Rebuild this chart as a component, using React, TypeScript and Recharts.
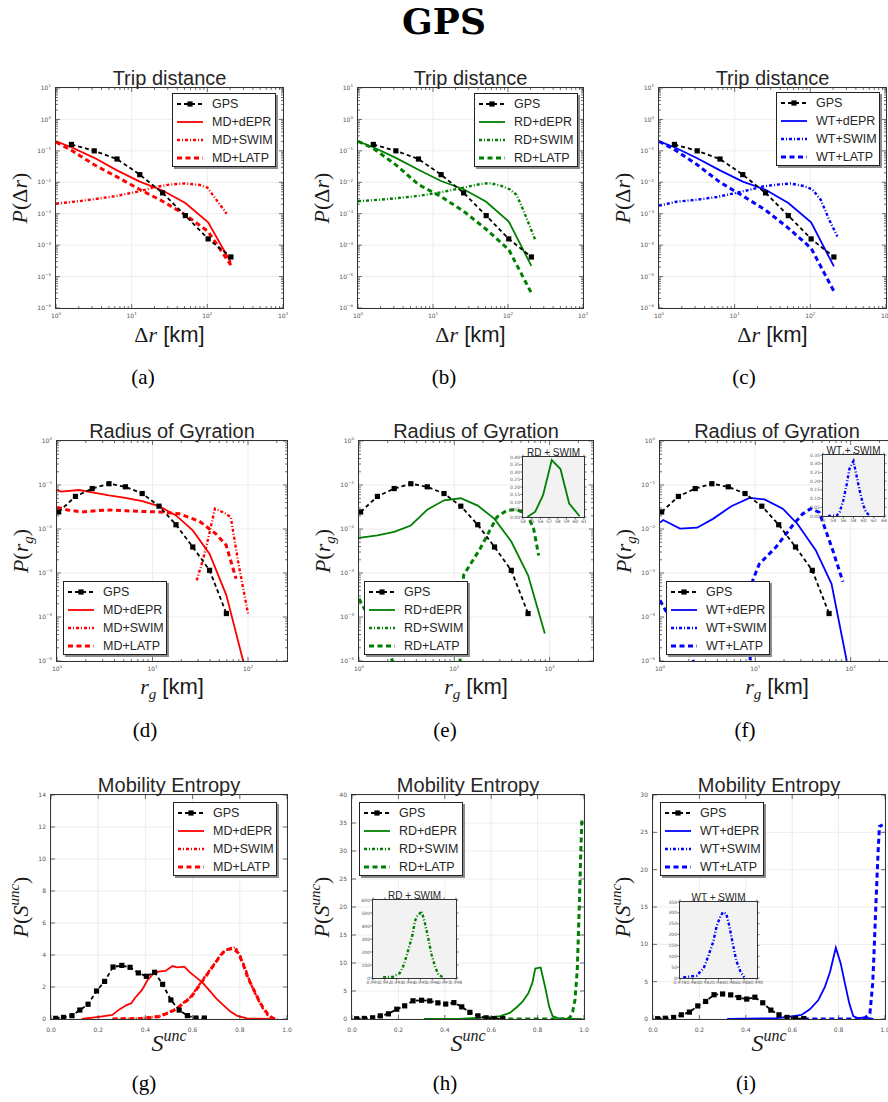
import React from "react";
import { LineChart, Line, XAxis, YAxis, CartesianGrid } from "recharts";

// ---------- Trip distance (km, log bins) ----------
const tripBins = [1.6, 3.2, 6.4, 12.8, 25.6, 51.2, 102.4, 204.8];
const gpsTrip = [0.16, 0.1, 0.055, 0.0175, 0.0046, 0.00087, 0.000158, 0.000042];
const modelTripBins = [1, 1.6, 3.2, 6.4, 12.8, 25.6, 51.2, 102.4, 204.8];
const mdDeprTrip = [0.2, 0.13, 0.06, 0.024, 0.0105, 0.0055, 0.0022, 0.00053, 0.000028];
const mdLatpTrip = [0.19, 0.104, 0.036, 0.0148, 0.0059, 0.0025, 0.00093, 0.00027, 0.000023];
const mdSwimTripX = [1, 2, 3.2, 6.4, 12.8, 20, 32, 50, 80, 100, 180];
const mdSwimTrip = [0.0021, 0.0025, 0.0029, 0.0037, 0.0052, 0.007, 0.0085, 0.0092, 0.0082, 0.0068, 0.001];
const rdDeprTrip = [0.2, 0.13, 0.06, 0.025, 0.011, 0.006, 0.0024, 0.00056, 0.000022];
const rdLatpTrip = [0.2, 0.12, 0.036, 0.0085, 0.0035, 0.0012, 0.00032, 0.000072, 0.000003];
const rdSwimTripX = [1, 2, 3.2, 6.4, 12.8, 25.6, 40, 56, 80, 105, 130, 160, 230];
const rdSwimTrip = [0.0025, 0.0028, 0.0031, 0.0037, 0.0048, 0.0068, 0.0085, 0.0095, 0.0078, 0.006, 0.004, 0.0013, 0.00015];
const wtDeprTrip = [0.2, 0.13, 0.058, 0.024, 0.0105, 0.0058, 0.0022, 0.00053, 0.000021];
const wtLatpTrip = [0.2, 0.11, 0.036, 0.01, 0.0037, 0.0013, 0.00035, 0.00008, 0.0000034];
const wtSwimTripX = [1, 1.7, 3.2, 5.8, 10, 16, 24, 36, 55, 82, 106, 137, 177, 228];
const wtSwimTrip = [0.0018, 0.0024, 0.0028, 0.0034, 0.0045, 0.0058, 0.0074, 0.0084, 0.0091, 0.0076, 0.006, 0.0028, 0.00065, 0.00019];

// ---------- Radius of gyration ----------
const gyrBins = [1.04, 1.56, 2.34, 3.5, 5.2, 7.8, 11.7, 17.6, 26.4, 39.6, 59.4];
const gpsGyr = [0.0244, 0.055, 0.083, 0.107, 0.091, 0.064, 0.033, 0.0125, 0.0039, 0.00115, 0.00012];
const mdGyrDeprX = [1, 1.1, 1.7, 2.34, 3.5, 5.2, 7.8, 11.7, 17.6, 26.4, 39.6, 59.4, 89];
const mdGyrDepr = [0.078, 0.071, 0.077, 0.068, 0.058, 0.051, 0.043, 0.033, 0.0204, 0.0093, 0.0027, 0.00031, 0.00001];
const mdGyrLatpX = [1, 1.3, 1.8, 2.6, 3.6, 5.3, 7.9, 11.8, 19, 31, 46, 59, 75];
const mdGyrLatp = [0.031, 0.027, 0.0244, 0.026, 0.027, 0.026, 0.025, 0.0244, 0.0222, 0.015, 0.0078, 0.0043, 0.00074];
const mdGyrSwimX = [29, 34, 39, 45, 55, 66, 80, 100];
const mdGyrSwim = [0.00068, 0.0021, 0.0072, 0.029, 0.024, 0.0187, 0.0015, 0.00012];
const rdGyrDeprX = [1, 1.56, 2.34, 3.5, 5.2, 7.8, 11.7, 17.6, 26.4, 39.6, 59.4, 89];
const rdGyrDepr = [0.0063, 0.0072, 0.0086, 0.012, 0.0275, 0.045, 0.05, 0.034, 0.017, 0.0052, 0.00089, 0.000042];
const rdGyrLatpX = [1, 4, 11, 12.5, 18.7, 28, 35.6, 45, 57.8, 67.8, 76.7];
const rdGyrLatp = [0.00026, 0.000001, 0.000001, 0.00089, 0.0036, 0.0187, 0.0266, 0.0275, 0.022, 0.0103, 0.0025];
const wtGyrDeprX = [1, 1.08, 1.62, 2.45, 3.6, 5.6, 8.7, 12.5, 19.4, 27.7, 43, 63, 91];
const wtGyrDepr = [0.014, 0.016, 0.0102, 0.0107, 0.017, 0.033, 0.051, 0.047, 0.029, 0.013, 0.0033, 0.00057, 0.00001];
const wtGyrLatpX = [1, 4, 8.5, 9.4, 11, 16.5, 24.6, 31.3, 38, 46.8, 64, 83];
const wtGyrLatp = [0.00024, 0.000001, 0.000001, 0.00068, 0.0016, 0.0039, 0.012, 0.022, 0.029, 0.024, 0.0036, 0.00063];

// ---------- Mobility entropy ----------
const entBins = [0.02, 0.053, 0.089, 0.122, 0.157, 0.193, 0.227, 0.263, 0.3, 0.335, 0.37, 0.404, 0.439, 0.473, 0.508, 0.543, 0.578, 0.614, 0.65];
const gpsEnt = [0.04, 0.1, 0.21, 0.56, 0.92, 1.75, 2.35, 3.25, 3.35, 3.23, 2.88, 2.67, 2.92, 2.17, 1.19, 0.56, 0.21, 0.06, 0.06];
const mdEntDeprX = [0.13, 0.21, 0.26, 0.29, 0.32, 0.34, 0.355, 0.385, 0.41, 0.435, 0.455, 0.485, 0.515, 0.535, 0.565, 0.585, 0.615, 0.645, 0.67, 0.7, 0.73, 0.76, 0.79, 0.83, 0.93];
const mdEntDepr = [0, 0.15, 0.25, 0.6, 0.87, 0.98, 1.3, 1.8, 2.45, 2.85, 2.96, 3.0, 3.31, 3.23, 3.27, 2.96, 2.6, 2.23, 1.81, 1.29, 0.87, 0.46, 0.19, 0.04, 0];
const mdEntLatpX = [0.26, 0.38, 0.46, 0.5, 0.53, 0.56, 0.59, 0.61, 0.64, 0.67, 0.7, 0.72, 0.74, 0.765, 0.78, 0.795, 0.815, 0.835, 0.86, 0.88, 0.9, 0.925, 0.945];
const mdEntLatp = [0, 0.03, 0.15, 0.4, 0.6, 0.98, 1.3, 1.7, 2.33, 2.96, 3.58, 4.0, 4.31, 4.42, 4.31, 4.1, 3.38, 2.54, 1.81, 1.19, 0.67, 0.19, 0.02];
const mdEntSwimX = [0.27, 0.38, 0.46, 0.5, 0.53, 0.56, 0.59, 0.61, 0.64, 0.67, 0.7, 0.72, 0.74, 0.76, 0.78, 0.8, 0.82, 0.84, 0.86, 0.88, 0.9, 0.92, 0.94, 0.96];
const mdEntSwim = [0, 0.04, 0.18, 0.42, 0.65, 1.0, 1.35, 1.75, 2.4, 3.0, 3.6, 4.05, 4.3, 4.35, 4.5, 4.0, 3.3, 2.45, 1.75, 1.15, 0.6, 0.2, 0.03, 0];
const rdEntDeprX = [0.31, 0.46, 0.58, 0.64, 0.68, 0.71, 0.735, 0.76, 0.777, 0.79, 0.813, 0.832, 0.85, 0.865, 0.89, 0.93, 0.99];
const rdEntDepr = [0, 0.03, 0.3, 0.5, 1.1, 2.1, 3.1, 4.6, 6.4, 9.0, 9.2, 5.8, 2.2, 0.5, 0.1, 0.03, 0];
const rdEntLatpX = [0.6, 0.7, 0.8, 0.9, 0.93, 0.94, 0.951, 0.961, 0.971, 0.98, 0.986, 0.991];
const rdEntLatp = [0, 0, 0, 0, 0.05, 0.3, 1.3, 3.4, 8.75, 20.6, 29.6, 35.7];
const wtEntDeprX = [0.32, 0.53, 0.59, 0.64, 0.676, 0.712, 0.741, 0.763, 0.788, 0.809, 0.827, 0.846, 0.863, 0.885, 0.91, 0.95];
const wtEntDepr = [0, 0.1, 0.3, 0.54, 1.3, 2.5, 4.3, 6.3, 9.55, 7.45, 4.8, 2.1, 0.4, 0.1, 0.2, 0];
const wtEntLatpX = [0.65, 0.75, 0.85, 0.9, 0.914, 0.935, 0.947, 0.952, 0.961, 0.97, 0.976, 0.99];
const wtEntLatp = [0, 0, 0, 0, 0.15, 0.75, 4.8, 8.3, 15.5, 22.2, 25.8, 26];

// ---------- insets (SWIM) ----------
const rdGyrSwimX = [54.5, 55.4, 56.3, 57.3, 58.3, 59.3, 60.5];
const rdGyrSwim = [0, 0.035, 0.145, 0.38, 0.32, 0.09, 0.005];
const wtGyrSwimX = [53, 54.7, 55.3, 56, 56.7, 57.2, 57.7, 58, 58.5, 59.2, 59.9, 60.5, 61.3];
const wtGyrSwim = [0, 0.002, 0.025, 0.09, 0.187, 0.27, 0.3, 0.315, 0.245, 0.147, 0.063, 0.02, 0];
const rdEntSwimX = [0.99185, 0.9927, 0.99326, 0.99354, 0.99382, 0.9941, 0.99433, 0.99453, 0.99467, 0.99495, 0.9951, 0.99538, 0.99566, 0.99594, 0.99623, 0.99651, 0.99693];
const rdEntSwim = [5, 10, 38, 89, 166, 255, 332, 434, 472, 497, 515, 421, 306, 179, 89, 26, 5];
const wtEntSwimX = [0.9785, 0.9806, 0.9817, 0.9824, 0.9832, 0.9837, 0.9843, 0.9847, 0.9852, 0.9857, 0.9862, 0.9868, 0.9874, 0.988];
const wtEntSwim = [3, 11, 46, 100, 169, 238, 284, 303, 296, 238, 161, 77, 31, 3];

// ---------- tick values ----------
const tripXTicks = [1, 10, 100, 1000];
const tripYTicks = [1e-6, 1e-5, 1e-4, 1e-3, 1e-2, 1e-1, 1, 10];
const gyrXTicks = [1, 10, 100];
const gyrYTicks = [1e-5, 1e-4, 1e-3, 1e-2, 1e-1, 1];
const entXTicks = [0, 0.2, 0.4, 0.6, 0.8, 1.0];
const gEntYTicks = [0, 2, 4, 6, 8, 10, 12, 14];
const hEntYTicks = [0, 5, 10, 15, 20, 25, 30, 35, 40];
const iEntYTicks = [0, 5, 10, 15, 20, 25, 30];
const eInsetXTicks = [54, 55, 56, 57, 58, 59, 60, 61];
const eInsetYTicks = [0, 0.05, 0.1, 0.15, 0.2, 0.25, 0.3, 0.35, 0.4];
const fInsetXTicks = [52, 54, 56, 58, 60, 62, 64];
const fInsetYTicks = [0, 0.05, 0.1, 0.15, 0.2, 0.25, 0.3, 0.35];
const hInsetXTicks = [0.991, 0.992, 0.993, 0.994, 0.995, 0.996, 0.997, 0.998];
const hInsetYTicks = [0, 100, 200, 300, 400, 500, 600];
const iInsetXTicks = [0.978, 0.98, 0.982, 0.984, 0.986, 0.988, 0.99];
const iInsetYTicks = [0, 50, 100, 150, 200, 250, 300, 350];

type Pt = { x: number; y: number };
const zip = (xs: number[], ys: number[]): Pt[] => xs.map((x, i) => ({ x, y: ys[i] }));

const logMinors = (lo: number, hi: number) => {
  const out: number[] = [];
  for (let e = Math.floor(Math.log10(lo)); e < Math.ceil(Math.log10(hi)); e++) {
    for (let k = 2; k <= 9; k++) {
      const v = k * Math.pow(10, e);
      if (v > lo * 1.0001 && v < hi) out.push(v);
    }
  }
  return out;
};

const SERIF = '"Liberation Serif", "Times New Roman", serif';
const SANS = '"Liberation Sans", Arial, sans-serif';
const TICKFONT = '"DejaVu Sans", sans-serif';
const C = { gps: "#000000", md: "#ff0000", rd: "#008000", wt: "#0000ff" };
const LINE: Record<string, { dash?: string; width: number }> = {
  gps: { dash: "4 3", width: 1.8 },
  depr: { width: 1.8 },
  swim: { dash: "3 2 1 2", width: 2.4 },
  latp: { dash: "5 3.5", width: 3 },
};

type Axis = {
  log: boolean;
  domain: [number, number];
  majors: number[];
  minors: number[];
  font: number;
  gap: number;
  len: number;
  fmt?: (v: number) => string;
};
type Series = { label: string; data: Pt[]; color: string; kind: string; marker?: boolean };

const logAxis = (lo: number, hi: number, majors: number[], gap: number): Axis => ({
  log: true, domain: [lo, hi], majors, minors: logMinors(lo, hi), font: 6, gap, len: 4,
});
const linAxis = (hi: number, majors: number[], gap: number, fmt: (v: number) => string, font = 6, len = 4, lo = 0): Axis => ({
  log: false, domain: [lo, hi], majors, minors: [], font, gap, len, fmt,
});

const isMajor = (ax: Axis, v: number) =>
  ax.majors.some((m) => Math.abs(m - v) <= 1e-9 * Math.max(Math.abs(m), 1e-12));

function TickLabel({ x, y, anchor, ax, v }: any) {
  if (ax.log) {
    const e = Math.round(Math.log10(v));
    return (
      <text x={x} y={y} textAnchor={anchor} fontFamily={TICKFONT} fontSize={ax.font} fill="#555">
        10
        <tspan dy={-ax.font * 0.45} fontSize={ax.font * 0.68}>
          {e < 0 ? "\u2212" + -e : String(e)}
        </tspan>
      </text>
    );
  }
  return (
    <text x={x} y={y} textAnchor={anchor} fontFamily={TICKFONT} fontSize={ax.font} fill="#555">
      {ax.fmt(v)}
    </text>
  );
}

function XTick(props: any) {
  const { x, y, payload, ax, h, out } = props;
  const v = payload.value;
  const major = isMajor(ax, v);
  const len = major ? ax.len : ax.len / 2;
  const s = out ? 1 : -1;
  return (
    <g>
      <line x1={x} x2={x} y1={y} y2={y + s * len} stroke="#333" strokeWidth={0.7} />
      <line x1={x} x2={x} y1={y - h} y2={y - h - s * len} stroke="#333" strokeWidth={0.7} />
      {major && <TickLabel x={x} y={y + ax.gap} anchor="middle" ax={ax} v={v} />}
    </g>
  );
}

function YTick(props: any) {
  const { x, y, payload, ax, w, out } = props;
  const v = payload.value;
  const major = isMajor(ax, v);
  const len = major ? ax.len : ax.len / 2;
  const s = out ? 1 : -1;
  return (
    <g>
      <line x1={x} x2={x - s * len} y1={y} y2={y} stroke="#333" strokeWidth={0.7} />
      <line x1={x + w} x2={x + w + s * len} y1={y} y2={y} stroke="#333" strokeWidth={0.7} />
      {major && <TickLabel x={x - ax.gap} y={y + ax.font * 0.35} anchor="end" ax={ax} v={v} />}
    </g>
  );
}

const squareDot = (p: any) =>
  p.cx == null || p.cy == null ? (
    <g key={`d${p.index}`} />
  ) : (
    <rect key={`d${p.index}`} x={p.cx - 2.6} y={p.cy - 2.6} width={5.2} height={5.2} fill="#000" />
  );

type Rect = { x: number; y: number; w: number; h: number };

// axes are given 1px of room (Recharts skips axes of zero size), taken back from the margins
function Chart({ rect, xAx, yAx, series, out = false, grid = true, m }: any) {
  const { x, y, w, h } = rect as Rect;
  return (
    <div style={{ position: "absolute", left: x - m.l, top: y - m.t }}>
      <LineChart
        width={w + m.l + m.r}
        height={h + m.t + m.b}
        margin={{ top: m.t, right: m.r, bottom: m.b - 1, left: m.l - 1 }}
      >
        {grid && (
          <CartesianGrid
            stroke="#e8e8e8"
            strokeWidth={0.8}
            verticalValues={xAx.majors}
            horizontalValues={yAx.majors}
          />
        )}
        <XAxis
          type="number"
          dataKey="x"
          scale={xAx.log ? "log" : "linear"}
          domain={xAx.domain}
          allowDataOverflow
          ticks={[...xAx.majors, ...xAx.minors]}
          interval={0}
          height={1}
          tickSize={0}
          tickMargin={0}
          axisLine={false}
          tickLine={false}
          tick={(p: any) => <XTick {...p} ax={xAx} h={h} out={out} />}
        />
        <YAxis
          type="number"
          scale={yAx.log ? "log" : "linear"}
          domain={yAx.domain}
          allowDataOverflow
          ticks={[...yAx.majors, ...yAx.minors]}
          interval={0}
          width={1}
          tickSize={0}
          tickMargin={0}
          axisLine={false}
          tickLine={false}
          tick={(p: any) => <YTick {...p} ax={yAx} w={w} out={out} />}
        />
        {(series as Series[])
          .filter((s) => s.data.length > 0)
          .map((s) => (
            <Line
              key={s.label}
              data={s.data}
              dataKey="y"
              type="linear"
              stroke={s.color}
              strokeWidth={LINE[s.kind].width}
              strokeDasharray={LINE[s.kind].dash}
              dot={s.marker ? squareDot : false}
              activeDot={false}
              isAnimationActive={false}
            />
          ))}
      </LineChart>
    </div>
  );
}

function Frame({ rect, bg }: { rect: Rect; bg?: string }) {
  return (
    <div
      style={{
        position: "absolute",
        left: rect.x - 0.6,
        top: rect.y - 0.6,
        width: rect.w + 1.2,
        height: rect.h + 1.2,
        boxSizing: "border-box",
        border: "1.2px solid #333",
        background: bg,
        pointerEvents: "none",
      }}
    />
  );
}

function LegendBox({ left, top, items }: { left: number; top: number; items: Series[] }) {
  return (
    <div
      style={{
        position: "absolute",
        left,
        top,
        width: 104,
        height: 74,
        boxSizing: "border-box",
        border: "1px solid #222",
        background: "#fff",
        boxShadow: "2px 2px 0 #8c8c8c",
        fontFamily: SANS,
        fontSize: 12.5,
        color: "#262626",
      }}
    >
      {items.map((s, i) => (
        <div
          key={s.label}
          style={{ position: "absolute", left: 0, top: 1 + i * 18, height: 18, display: "flex", alignItems: "center", whiteSpace: "nowrap" }}
        >
          <svg width={34} height={18}>
            <line x1={4} x2={30} y1={9} y2={9} stroke={s.color} strokeWidth={LINE[s.kind].width} strokeDasharray={LINE[s.kind].dash} />
            {s.marker && <rect x={14.4} y={6.4} width={5.2} height={5.2} fill="#000" />}
          </svg>
          <span style={{ marginLeft: 5 }}>{s.label}</span>
        </div>
      ))}
    </div>
  );
}

const MAIN_M = { l: 44, r: 14, t: 14, b: 24 };
const INSET_M = { l: 16, r: 6, t: 6, b: 10 };

const gps = (xs: number[], ys: number[]): Series => ({ label: "GPS", data: zip(xs, ys), color: C.gps, kind: "gps", marker: true });
const mk = (label: string, color: string, kind: string, data: Pt[]): Series => ({ label, data, color, kind });

const tripXAx = logAxis(1, 1000, tripXTicks, 10);
const tripYAx = logAxis(1e-6, 10, tripYTicks, 5);
const gyrYAx = logAxis(1e-5, 1, gyrYTicks, 5);
const entXAx = linAxis(1, entXTicks, 13, (v) => v.toFixed(1));

const panels = [
  {
    rect: { x: 56, y: 88, w: 227, h: 220 }, xAx: tripXAx, yAx: tripYAx, legend: [172, 93],
    series: [
      gps(tripBins, gpsTrip),
      mk("MD+dEPR", C.md, "depr", zip(modelTripBins, mdDeprTrip)),
      mk("MD+SWIM", C.md, "swim", zip(mdSwimTripX, mdSwimTrip)),
      mk("MD+LATP", C.md, "latp", zip(modelTripBins, mdLatpTrip)),
    ],
  },
  {
    rect: { x: 358, y: 88, w: 225, h: 220 }, xAx: tripXAx, yAx: tripYAx, legend: [474, 93],
    series: [
      gps(tripBins, gpsTrip),
      mk("RD+dEPR", C.rd, "depr", zip(modelTripBins, rdDeprTrip)),
      mk("RD+SWIM", C.rd, "swim", zip(rdSwimTripX, rdSwimTrip)),
      mk("RD+LATP", C.rd, "latp", zip(modelTripBins, rdLatpTrip)),
    ],
  },
  {
    rect: { x: 659, y: 88, w: 227, h: 220 }, xAx: tripXAx, yAx: tripYAx, legend: [776, 92],
    series: [
      gps(tripBins, gpsTrip),
      mk("WT+dEPR", C.wt, "depr", zip(modelTripBins, wtDeprTrip)),
      mk("WT+SWIM", C.wt, "swim", zip(wtSwimTripX, wtSwimTrip)),
      mk("WT+LATP", C.wt, "latp", zip(modelTripBins, wtLatpTrip)),
    ],
  },
  {
    rect: { x: 57, y: 441, w: 230, h: 220 }, xAx: logAxis(1, 256, gyrXTicks, 10), yAx: gyrYAx, legend: [63, 581],
    series: [
      gps(gyrBins, gpsGyr),
      mk("MD+dEPR", C.md, "depr", zip(mdGyrDeprX, mdGyrDepr)),
      mk("MD+SWIM", C.md, "swim", zip(mdGyrSwimX, mdGyrSwim)),
      mk("MD+LATP", C.md, "latp", zip(mdGyrLatpX, mdGyrLatp)),
    ],
  },
  {
    rect: { x: 359, y: 441, w: 234, h: 220 }, xAx: logAxis(1, 285, gyrXTicks, 10), yAx: gyrYAx, legend: [364, 581],
    series: [
      gps(gyrBins, gpsGyr),
      mk("RD+dEPR", C.rd, "depr", zip(rdGyrDeprX, rdGyrDepr)),
      mk("RD+SWIM", C.rd, "swim", []),
      mk("RD+LATP", C.rd, "latp", zip(rdGyrLatpX, rdGyrLatp)),
    ],
    inset: {
      rect: { x: 523, y: 457, w: 61, h: 60 }, title: "RD + SWIM",
      xAx: linAxis(61, eInsetXTicks, 6, (v) => String(v), 4.5, 2.5, 54),
      yAx: linAxis(0.4, eInsetYTicks, 3, (v) => v.toFixed(2), 4.5, 2.5),
      series: [{ label: "RD+SWIM", data: zip(rdGyrSwimX, rdGyrSwim), color: C.rd, kind: "depr" }],
    },
  },
  {
    rect: { x: 660, y: 441, w: 234, h: 220 }, xAx: logAxis(1, 285, gyrXTicks, 10), yAx: gyrYAx, legend: [666, 581],
    series: [
      gps(gyrBins, gpsGyr),
      mk("WT+dEPR", C.wt, "depr", zip(wtGyrDeprX, wtGyrDepr)),
      mk("WT+SWIM", C.wt, "swim", []),
      mk("WT+LATP", C.wt, "latp", zip(wtGyrLatpX, wtGyrLatp)),
    ],
    inset: {
      rect: { x: 823, y: 455, w: 61, h: 61 }, title: "WT + SWIM",
      xAx: linAxis(64, fInsetXTicks, 6, (v) => String(v), 4.5, 2.5, 52),
      yAx: linAxis(0.35, fInsetYTicks, 3, (v) => v.toFixed(2), 4.5, 2.5),
      series: [{ label: "WT+SWIM", data: zip(wtGyrSwimX, wtGyrSwim), color: C.wt, kind: "swim" }],
    },
  },
  {
    rect: { x: 51, y: 795, w: 236, h: 224 }, xAx: entXAx, yAx: linAxis(14, gEntYTicks, 5, (v) => String(v)), legend: [173, 802],
    series: [
      gps(entBins, gpsEnt),
      mk("MD+dEPR", C.md, "depr", zip(mdEntDeprX, mdEntDepr)),
      mk("MD+SWIM", C.md, "swim", zip(mdEntSwimX, mdEntSwim)),
      mk("MD+LATP", C.md, "latp", zip(mdEntLatpX, mdEntLatp)),
    ],
  },
  {
    rect: { x: 352, y: 795, w: 232, h: 224 }, xAx: entXAx, yAx: linAxis(40, hEntYTicks, 5, (v) => String(v)), legend: [359, 802],
    series: [
      gps(entBins, gpsEnt),
      mk("RD+dEPR", C.rd, "depr", zip(rdEntDeprX, rdEntDepr)),
      mk("RD+SWIM", C.rd, "swim", []),
      mk("RD+LATP", C.rd, "latp", zip(rdEntLatpX, rdEntLatp)),
    ],
    inset: {
      rect: { x: 373, y: 900, w: 83, h: 78 }, title: "RD + SWIM",
      xAx: linAxis(0.998, hInsetXTicks, 6, (v) => v.toFixed(3), 4.5, 2.5, 0.991),
      yAx: linAxis(600, hInsetYTicks, 3, (v) => String(v), 4.5, 2.5),
      series: [{ label: "RD+SWIM", data: zip(rdEntSwimX, rdEntSwim), color: C.rd, kind: "swim" }],
    },
  },
  {
    rect: { x: 653, y: 795, w: 232, h: 224 }, xAx: entXAx, yAx: linAxis(30, iEntYTicks, 5, (v) => String(v)), legend: [660, 802],
    series: [
      gps(entBins, gpsEnt),
      mk("WT+dEPR", C.wt, "depr", zip(wtEntDeprX, wtEntDepr)),
      mk("WT+SWIM", C.wt, "swim", []),
      mk("WT+LATP", C.wt, "latp", zip(wtEntLatpX, wtEntLatp)),
    ],
    inset: {
      rect: { x: 680, y: 902, w: 77, h: 76 }, title: "WT + SWIM",
      xAx: linAxis(0.99, iInsetXTicks, 6, (v) => v.toFixed(3), 4.5, 2.5, 0.978),
      yAx: linAxis(350, iInsetYTicks, 3, (v) => String(v), 4.5, 2.5),
      series: [{ label: "WT+SWIM", data: zip(wtEntSwimX, wtEntSwim), color: C.wt, kind: "swim" }],
    },
  },
];

const rowTitles = ["Trip distance", "Radius of Gyration", "Mobility Entropy"];
const captions = ["(a)", "(b)", "(c)", "(d)", "(e)", "(f)", "(g)", "(h)", "(i)"];
const captionX = [143, 444, 744, 145, 445, 745, 144, 445, 746];
const ROW_TITLE_Y = [85, 438, 792];
const ROW_XLABEL_Y = [342, 694, 1051];
const ROW_CAPTION_Y = [384, 737, 1090];

function XLabel({ row, cx, y }: { row: number; cx: number; y: number }) {
  return (
    <text x={cx} y={y} textAnchor="middle" fontFamily={SERIF} fontSize={22} fill="#1a1a1a">
      {row === 0 && (
        <>
          {"\u0394"}
          <tspan fontStyle="italic">r</tspan>
          <tspan fontFamily={SANS}>{" [km]"}</tspan>
        </>
      )}
      {row === 1 && (
        <>
          <tspan fontStyle="italic">r</tspan>
          <tspan fontStyle="italic" fontSize={15} dy={5}>g</tspan>
          <tspan fontFamily={SANS} dy={-5}>{" [km]"}</tspan>
        </>
      )}
      {row === 2 && (
        <>
          <tspan fontStyle="italic" fontSize={24}>S</tspan>
          <tspan fontStyle="italic" fontSize={16} dy={-10}>unc</tspan>
        </>
      )}
    </text>
  );
}

function YLabel({ row, x, cy }: { row: number; x: number; cy: number }) {
  return (
    <text transform={`translate(${x},${cy}) rotate(-90)`} textAnchor="middle" fontFamily={SERIF} fontSize={22} fill="#1a1a1a">
      <tspan fontStyle="italic">P</tspan>
      {row === 0 && (
        <>
          {"(\u0394"}
          <tspan fontStyle="italic">r</tspan>
          <tspan>)</tspan>
        </>
      )}
      {row === 1 && (
        <>
          {"("}
          <tspan fontStyle="italic">r</tspan>
          <tspan fontStyle="italic" fontSize={15} dy={5}>g</tspan>
          <tspan dy={-5}>)</tspan>
        </>
      )}
      {row === 2 && (
        <>
          {"("}
          <tspan fontStyle="italic">S</tspan>
          <tspan fontStyle="italic" fontSize={15} dy={-9}>unc</tspan>
          <tspan dy={9}>)</tspan>
        </>
      )}
    </text>
  );
}

export default function App() {
  return (
    <div style={{ position: "absolute", left: 0, top: 0, width: 888, height: 1102, overflow: "hidden", background: "#fff" }}>
      {panels.map((p, i) => (
        <React.Fragment key={i}>
          <Chart rect={p.rect} xAx={p.xAx} yAx={p.yAx} series={[...p.series.slice(1), p.series[0]]} m={MAIN_M} />
          <Frame rect={p.rect} />
          <LegendBox left={p.legend[0]} top={p.legend[1]} items={p.series} />
          {p.inset && (
            <>
              <Frame rect={p.inset.rect} bg="#f2f2f2" />
              <Chart
                rect={p.inset.rect}
                xAx={p.inset.xAx}
                yAx={p.inset.yAx}
                series={p.inset.series}
                out
                grid={false}
                m={INSET_M}
              />
            </>
          )}
        </React.Fragment>
      ))}
      <svg width={888} height={1102} style={{ position: "absolute", left: 0, top: 0, pointerEvents: "none" }}>
        <text x={444} y={34} textAnchor="middle" fontFamily='"DejaVu Serif", serif' fontWeight="bold" fontSize={36} fill="#000">
          GPS
        </text>
        {panels.map((p, i) => {
          const row = Math.floor(i / 3);
          const cx = p.rect.x + p.rect.w / 2;
          const cy = p.rect.y + p.rect.h / 2;
          return (
            <g key={i}>
              <text x={cx} y={ROW_TITLE_Y[row]} textAnchor="middle" fontFamily={SANS} fontSize={20} fill="#262626">
                {rowTitles[row]}
              </text>
              <XLabel row={row} cx={cx} y={ROW_XLABEL_Y[row]} />
              <YLabel row={row} x={p.rect.x - (row === 2 ? 23 : 29)} cy={cy} />
              <text x={captionX[i]} y={ROW_CAPTION_Y[row]} textAnchor="middle" fontFamily={SERIF} fontSize={21} fill="#000">
                {captions[i]}
              </text>
              {p.inset && (
                <text
                  x={p.inset.rect.x + p.inset.rect.w / 2}
                  y={p.inset.rect.y - 1.5}
                  textAnchor="middle"
                  fontFamily={SANS}
                  fontSize={10}
                  fill="#262626"
                >
                  {p.inset.title}
                </text>
              )}
            </g>
          );
        })}
      </svg>
    </div>
  );
}
